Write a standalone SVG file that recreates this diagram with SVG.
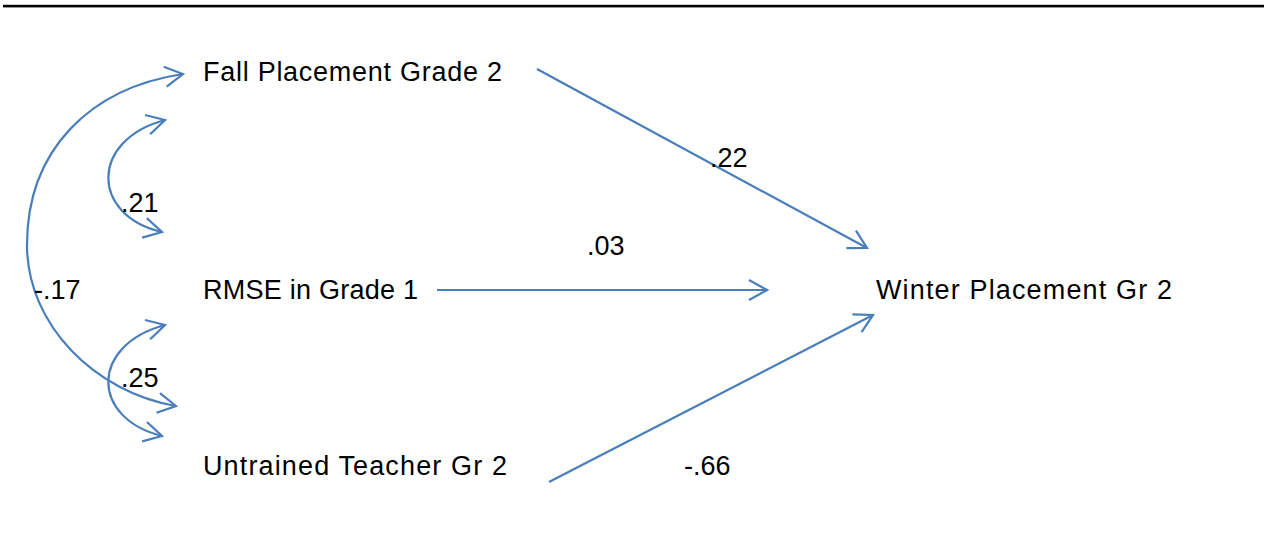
<svg xmlns="http://www.w3.org/2000/svg" width="1264" height="533" viewBox="0 0 1264 533">
<style>
text{font-family:"Liberation Sans",Arial,sans-serif;font-size:27px;fill:#000}
.c{fill:none;stroke:#4A7EBB;stroke-width:2.2}
</style>
<defs>
<marker id="ah" markerUnits="userSpaceOnUse" viewBox="-20 -12 22 24" refX="0" refY="0" markerWidth="22" markerHeight="24" orient="auto-start-reverse">
<path d="M-18,-10 L0,0 L-18,10" fill="none" stroke="#4A7EBB" stroke-width="2.2"/>
</marker>
</defs>
<rect x="3" y="4.8" width="1261" height="2.6" fill="#000"/>
<g id="connectors">
<path class="c" d="M537,69 L867,248" marker-end="url(#ah)"/>
<path class="c" d="M437,290 L767,290" marker-end="url(#ah)"/>
<path class="c" d="M549,482 L873,315" marker-end="url(#ah)"/>
<path class="c" d="M165,120 C90,140 90,215 162,232" marker-start="url(#ah)" marker-end="url(#ah)"/>
<path class="c" d="M165,325 C90,345 90,418 162,436" marker-start="url(#ah)" marker-end="url(#ah)"/>
<path class="c" d="M183,74 C90,88 27,150 27,245 C27,325 95,392 176,406" marker-start="url(#ah)" marker-end="url(#ah)"/>
</g>
<g id="fall"><text x="203" y="81" textLength="299">Fall Placement Grade 2</text></g>
<g id="rmse"><text x="203" y="299" textLength="215">RMSE in Grade 1</text></g>
<g id="untrained"><text x="203" y="475" textLength="304">Untrained Teacher Gr 2</text></g>
<g id="winter"><text x="876" y="299" textLength="296">Winter Placement Gr 2</text></g>
<g id="labels">
<text x="710" y="167">.22</text>
<text x="587" y="255">.03</text>
<text x="121" y="212">.21</text>
<text x="34" y="299">-.17</text>
<text x="121" y="387">.25</text>
<text x="684" y="475">-.66</text>
</g>
</svg>
